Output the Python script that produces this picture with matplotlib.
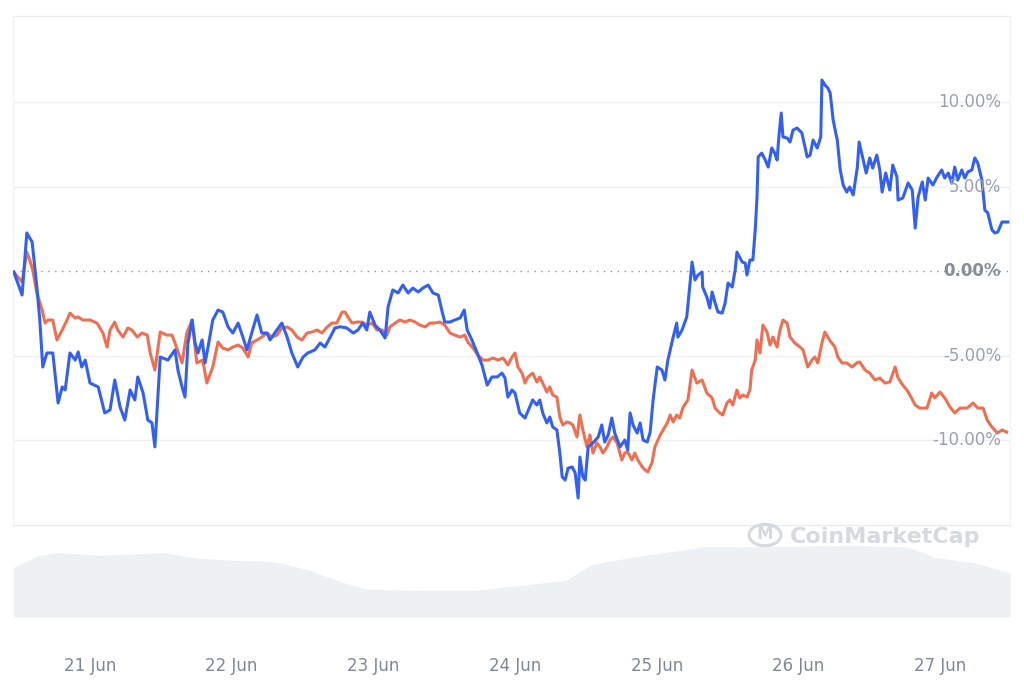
import matplotlib.pyplot as plt
from matplotlib.patches import Circle
from matplotlib.transforms import blended_transform_factory

# hours counted from 20 Jun 00:00, change in %
blue_hours = [11.1, 12.5, 13.3, 14.2, 15.0, 15.5, 16.0, 16.7, 17.7, 18.6, 19.3, 19.8, 20.6, 21.5, 22.0, 22.6, 23.2,
              24.0, 25.4, 26.5, 27.4, 28.2, 29.1, 29.9, 30.8, 31.6, 32.1, 33.0, 33.8, 34.5, 35.0, 35.9, 37.2, 38.4,
              38.9, 39.6, 40.1, 40.6, 41.3, 41.8, 42.3, 43.0, 43.5, 44.0, 44.8, 45.7, 46.5, 47.4, 48.2, 49.1, 49.9,
              50.6, 51.4, 52.3, 53.1, 54.0, 54.5, 55.3, 56.5, 57.4, 58.2, 59.2, 60.1, 60.9, 62.1, 63.0, 63.8, 64.7,
              65.5, 66.4, 67.5, 68.6, 69.4, 70.2, 70.9, 71.4, 72.3, 73.1, 74.0, 74.5, 75.3, 76.2, 77.0, 77.9, 78.7,
              79.6, 80.4, 81.3, 82.1, 83.0, 83.6, 84.1, 85.0, 85.8, 86.7, 87.4, 87.9, 88.7, 89.6, 90.4, 91.3, 92.1,
              93.0, 93.8, 94.3, 94.8, 95.5, 96.0, 96.8, 97.7, 98.5, 99.0, 99.7, 100.2, 100.7, 101.4, 101.9, 102.4,
              103.1, 103.6, 104.0, 104.5, 105.0, 105.7, 106.2, 106.7, 107.0, 107.5, 107.9, 108.4, 109.2, 110.1,
              110.7, 111.2, 111.8, 112.4, 112.9, 113.8, 114.6, 115.1, 115.5, 116.0, 116.7, 117.2, 117.7, 118.4,
              118.9, 119.4, 120.1, 120.9, 121.4, 121.9, 122.8, 123.4, 123.6, 124.3, 125.1, 125.6, 126.0, 126.5,
              127.0, 127.7, 127.8, 128.5, 129.0, 129.4, 129.9, 130.4, 131.1, 131.6, 132.1, 132.8, 133.3, 133.6,
              134.5, 135.0, 135.3, 135.8, 136.3, 136.7, 137.0, 137.2, 137.8, 138.4, 138.9, 139.5, 140.0, 140.4,
              140.7, 141.1, 141.4, 142.1, 142.6, 143.1, 143.8, 144.6, 145.5, 146.0, 146.5, 147.2, 147.8, 148.0,
              148.5, 149.0, 149.4, 149.9, 150.6, 151.1, 151.6, 152.2, 152.7, 153.3, 154.0, 154.3, 155.0, 155.5,
              156.1, 156.6, 157.3, 157.8, 158.2, 158.8, 159.5, 160.0, 160.7, 160.9, 161.7, 162.6, 163.3, 163.8,
              164.3, 165.0, 165.5, 166.0, 166.8, 167.5, 168.3, 168.8, 169.4, 170.0, 170.5, 171.0, 171.7, 172.2,
              172.7, 173.4, 173.9, 174.4, 175.1, 175.6, 176.1, 176.8, 177.3, 177.8, 178.5, 179.0, 179.5]
blue_pct = [-0.06, -1.42, 2.25, 1.72, -0.95, -2.90, -5.68, -4.85, -4.85, -7.81, -6.86, -7.04, -4.85, -5.27, -4.79,
            -5.68, -5.27, -6.63, -6.86, -8.40, -8.22, -6.45, -8.05, -8.82, -7.04, -7.63, -6.27, -7.22, -8.82, -8.99,
            -10.41, -5.09, -5.27, -4.67, -5.86, -6.86, -7.46, -4.26, -2.90, -4.26, -4.85, -4.08, -5.44, -4.50, -2.90,
            -2.31, -2.43, -3.31, -3.67, -3.08, -3.91, -4.67, -3.67, -2.60, -3.67, -3.67, -4.08, -3.67, -3.08, -3.91,
            -4.85, -5.68, -5.09, -4.85, -4.67, -4.26, -4.50, -3.91, -3.37, -3.30, -3.37, -3.67, -3.49, -3.08, -3.49,
            -2.43, -3.20, -3.49, -3.96, -2.13, -1.12, -1.30, -0.83, -1.30, -1.01, -1.24, -1.01, -0.83, -1.30, -1.42,
            -2.31, -3.02, -3.02, -2.90, -2.78, -2.31, -3.49, -4.08, -4.85, -5.56, -6.75, -6.27, -6.27, -6.04, -6.33,
            -7.46, -7.04, -7.22, -8.40, -8.70, -8.05, -7.63, -7.93, -7.63, -8.40, -8.99, -8.64, -9.23, -9.41, -10.77,
            -12.19, -12.37, -11.66, -11.60, -11.95, -13.43, -11.01, -12.19, -12.37, -10.41, -10.18, -9.82, -9.11,
            -10.12, -9.70, -8.70, -9.59, -10.41, -10.00, -10.59, -8.40, -9.11, -9.59, -8.99, -10.00, -10.12, -9.53,
            -7.63, -5.68, -5.86, -6.45, -5.27, -3.91, -3.08, -3.91, -3.49, -2.72, -0.95, 0.53, -0.53, -0.24, -0.06,
            -0.95, -1.54, -2.19, -1.24, -1.89, -2.43, -2.49, -1.89, -0.71, -0.95, 0.06, 1.12, 0.53, 0.47, -0.24,
            0.65, 0.65, 2.43, 4.38, 6.75, 6.98, 6.57, 6.15, 7.28, 6.98, 6.57, 7.93, 9.35, 7.93, 7.87, 7.63, 8.34,
            8.46, 8.17, 6.75, 6.86, 7.75, 7.28, 7.93, 11.30, 11.01, 10.83, 10.53, 8.93, 7.75, 5.98, 5.09, 4.67,
            4.97, 4.50, 6.15, 7.63, 6.57, 5.80, 6.69, 6.09, 6.86, 5.98, 4.67, 5.80, 4.79, 6.27, 5.56, 4.20, 4.32,
            5.21, 4.79, 2.54, 4.38, 5.27, 4.20, 5.50, 5.09, 5.56, 5.98, 5.50, 5.80, 5.21, 6.15, 5.38, 5.98, 5.50,
            5.86, 5.98, 6.69, 6.39, 5.38, 3.61, 3.43, 2.43, 2.25, 2.31, 2.90, 2.90, 2.90]

red_hours = [11.1, 12.5, 13.3, 13.8, 14.3, 15.0, 15.9, 16.4, 16.9, 17.7, 18.4, 19.3, 20.1, 20.6, 21.5, 22.0, 22.8,
             24.0, 25.2, 26.2, 26.9, 27.4, 28.2, 28.7, 29.6, 30.4, 31.1, 32.0, 32.8, 33.7, 34.2, 35.0, 35.9, 37.0,
             37.9, 38.4, 39.6, 40.4, 41.3, 42.1, 43.1, 43.8, 44.8, 45.7, 46.5, 47.4, 48.2, 49.1, 49.9, 50.8, 51.4,
             52.3, 53.1, 54.0, 54.8, 55.7, 56.5, 57.4, 58.2, 59.1, 59.9, 60.8, 61.6, 62.5, 63.3, 64.2, 65.0, 65.8,
             66.7, 67.2, 67.7, 68.4, 69.2, 70.1, 70.9, 71.8, 72.6, 73.5, 74.3, 74.8, 75.7, 76.5, 77.4, 78.2, 79.1,
             79.9, 80.8, 81.6, 82.4, 83.3, 84.1, 85.0, 85.8, 86.7, 87.5, 88.0, 88.9, 89.7, 90.6, 91.4, 92.3, 93.1,
             94.0, 94.8, 95.5, 96.0, 96.5, 97.2, 97.7, 98.2, 99.0, 99.7, 100.2, 100.7, 101.4, 101.9, 102.4, 103.1,
             103.6, 104.1, 104.8, 105.3, 105.8, 106.5, 107.0, 107.5, 108.2, 108.7, 109.2, 109.9, 110.4, 110.9,
             111.6, 112.1, 112.6, 113.3, 114.1, 114.6, 115.1, 115.8, 116.3, 116.8, 117.7, 118.5, 119.2, 119.7,
             120.6, 121.1, 121.8, 122.3, 122.8, 123.4, 123.9, 124.5, 125.3, 126.0, 126.8, 127.7, 128.5, 129.4,
             129.9, 130.7, 131.2, 131.9, 132.4, 132.9, 133.6, 134.1, 134.6, 135.3, 135.8, 136.1, 136.7, 137.0,
             137.5, 138.0, 138.7, 139.2, 139.7, 140.4, 140.9, 141.4, 142.1, 142.6, 143.4, 144.3, 144.8, 145.6,
             146.3, 146.8, 147.3, 148.0, 148.5, 149.4, 150.2, 150.7, 151.4, 152.2, 153.1, 153.9, 154.4, 155.3,
             156.1, 157.0, 157.8, 158.7, 159.5, 160.4, 160.9, 161.7, 162.4, 162.9, 163.8, 164.6, 165.8, 166.6,
             167.1, 168.0, 168.8, 169.7, 170.5, 171.4, 172.6, 173.6, 174.4, 175.3, 176.0, 176.8, 177.7, 178.5, 179.3]
red_pct = [-0.06, -0.65, 1.12, 0.65, 0.06, -1.30, -2.31, -3.08, -2.90, -2.90, -4.08, -3.49, -2.90, -2.49, -2.78,
           -2.72, -2.90, -2.90, -3.08, -3.67, -4.50, -3.49, -3.02, -3.49, -3.91, -3.37, -3.49, -3.91, -3.67, -3.79,
           -4.85, -5.86, -3.61, -3.79, -3.79, -4.26, -5.44, -3.67, -2.90, -5.44, -5.27, -6.63, -5.68, -4.20, -4.56,
           -4.67, -4.50, -4.38, -4.56, -5.09, -4.26, -4.08, -3.91, -3.67, -3.91, -3.79, -3.37, -3.31, -3.49, -3.91,
           -4.08, -3.67, -3.61, -3.49, -3.67, -3.31, -3.08, -3.08, -2.43, -2.43, -2.72, -3.08, -3.02, -3.02, -3.20,
           -3.08, -3.49, -3.49, -3.79, -3.31, -3.08, -2.90, -3.02, -2.90, -3.02, -3.20, -3.31, -3.08, -3.08, -3.02,
           -3.20, -3.67, -3.79, -3.91, -3.79, -4.20, -4.56, -4.97, -5.27, -5.27, -5.15, -5.27, -5.15, -5.56, -5.09,
           -4.85, -5.68, -6.04, -6.63, -6.27, -6.04, -6.57, -6.27, -6.63, -7.16, -6.86, -7.34, -7.46, -8.64, -9.11,
           -8.93, -8.99, -9.11, -9.82, -8.52, -9.41, -10.41, -9.70, -10.77, -10.18, -10.41, -10.77, -10.41, -10.00,
           -9.82, -10.18, -11.18, -10.77, -10.71, -11.18, -10.77, -11.18, -11.66, -11.89, -11.36, -10.41, -9.70,
           -9.41, -8.99, -8.52, -8.93, -8.52, -8.70, -8.05, -7.63, -5.86, -6.63, -6.45, -7.22, -7.51, -8.11, -8.40,
           -8.52, -7.81, -7.63, -7.93, -7.04, -7.51, -7.34, -7.46, -7.04, -5.86, -5.27, -4.08, -4.85, -3.20, -3.61,
           -4.38, -3.91, -4.50, -3.49, -2.90, -3.08, -3.91, -4.26, -4.50, -4.67, -5.68, -5.27, -5.09, -5.44, -4.26,
           -3.61, -4.14, -4.50, -5.09, -5.44, -5.44, -5.68, -5.44, -5.38, -5.86, -6.04, -6.45, -6.33, -6.63, -6.57,
           -5.68, -6.33, -6.75, -7.04, -7.34, -7.93, -8.11, -8.11, -7.22, -7.51, -7.16, -7.51, -8.05, -8.40, -8.11,
           -8.11, -7.81, -8.11, -8.11, -8.82, -9.23, -9.59, -9.41, -9.53]

# volume, relative height (0-100)
vol_hours = [11.0, 15.4, 18.7, 25.5, 36.5, 42.1, 47.7, 55.5, 61.1, 66.7, 71.1, 81.3, 89.1, 97.9, 104.6, 109.0,
             115.8, 122.4, 128.0, 131.4, 153.6, 162.6, 167.0, 173.8, 179.9]
vol_rel = [54, 67, 70, 67, 70, 64, 62, 60, 51, 38, 30, 29, 29, 35, 40, 57, 65, 71, 76, 76, 78, 76, 65, 59, 48]

day_ticks = [24, 48, 72, 96, 120, 144, 168]
day_labels = ['21 Jun', '22 Jun', '23 Jun', '24 Jun', '25 Jun', '26 Jun', '27 Jun']
pct_ticks = [10, 5, 0, -5, -10]
pct_labels = ['10.00%', '5.00%', '0.00%', '-5.00%', '-10.00%']

W, H = 1024, 683
fig = plt.figure(figsize=(W / 100, H / 100), dpi=100)
fig.patch.set_facecolor('white')

x0, x1 = 13 / W, 1010 / W
ax = fig.add_axes([x0, 1 - 525 / H, x1 - x0, (525 - 16) / H])
axv = fig.add_axes([x0, 1 - 617 / H, x1 - x0, (617 - 525) / H])

xlim = (10.96, 179.86)
grid_c = '#eef0f3'

# price lines
ax.plot(red_hours, red_pct, color='#ef6f52', linewidth=2.2, solid_joinstyle='round', zorder=3)
ax.plot(blue_hours, blue_pct, color='#3460f0', linewidth=2.2, solid_joinstyle='round', zorder=4)
ax.set_xlim(*xlim)
ax.set_ylim(-15.03, 15.09)
for t in [10, 5, -5, -10]:
    ax.axhline(t, color=grid_c, linewidth=1, zorder=1)
ax.axhline(0, color='#8f96a3', linewidth=1, linestyle=(0, (1, 4)), zorder=1)
ax.set_xticks([])
ax.set_yticks([])
for s in ['top', 'bottom', 'left', 'right']:
    ax.spines[s].set_color('#e9ebef')
    ax.spines[s].set_linewidth(1)
ax.spines['left'].set_color('#f3f4f6')
ax.spines['right'].set_color('#f3f4f6')

# y labels sit inside the plot, right aligned
lab_tr = blended_transform_factory(fig.transFigure, ax.transData)
for t, lab in zip(pct_ticks, pct_labels):
    bold = t == 0
    ax.text(1001 / W, t, lab, transform=lab_tr, ha='right', va='center', fontsize=12,
            color='#858d9b' if bold else '#9aa1ad', fontweight='bold' if bold else 'normal',
            zorder=5)

# watermark
fig.text(790 / W, 1 - 537 / H, 'CoinMarketCap', fontsize=16, fontweight='bold',
         color='#d5d9e0', ha='left', va='center', zorder=10)
fig.patches.append(Circle((765 / W, 1 - 535 / H), 16 / W, transform=fig.transFigure,
                          fill=False, edgecolor='#d5d9e0', linewidth=2.2, zorder=10))
fig.text(765 / W, 1 - 534 / H, 'M', fontsize=12, fontweight='bold', color='#d5d9e0',
         ha='center', va='center', zorder=10)

# volume area
axv.fill_between(vol_hours, 0, vol_rel, color='#eef1f4', linewidth=0)
axv.set_xlim(*xlim)
axv.set_ylim(0, 100)
axv.set_yticks([])
axv.set_xticks(day_ticks)
axv.set_xticklabels(day_labels)
axv.tick_params(axis='x', length=0, pad=29, labelsize=12, labelcolor='#7e8796')
for s in axv.spines.values():
    s.set_visible(False)
axv.patch.set_alpha(0)

plt.savefig('out.png', dpi=100)
